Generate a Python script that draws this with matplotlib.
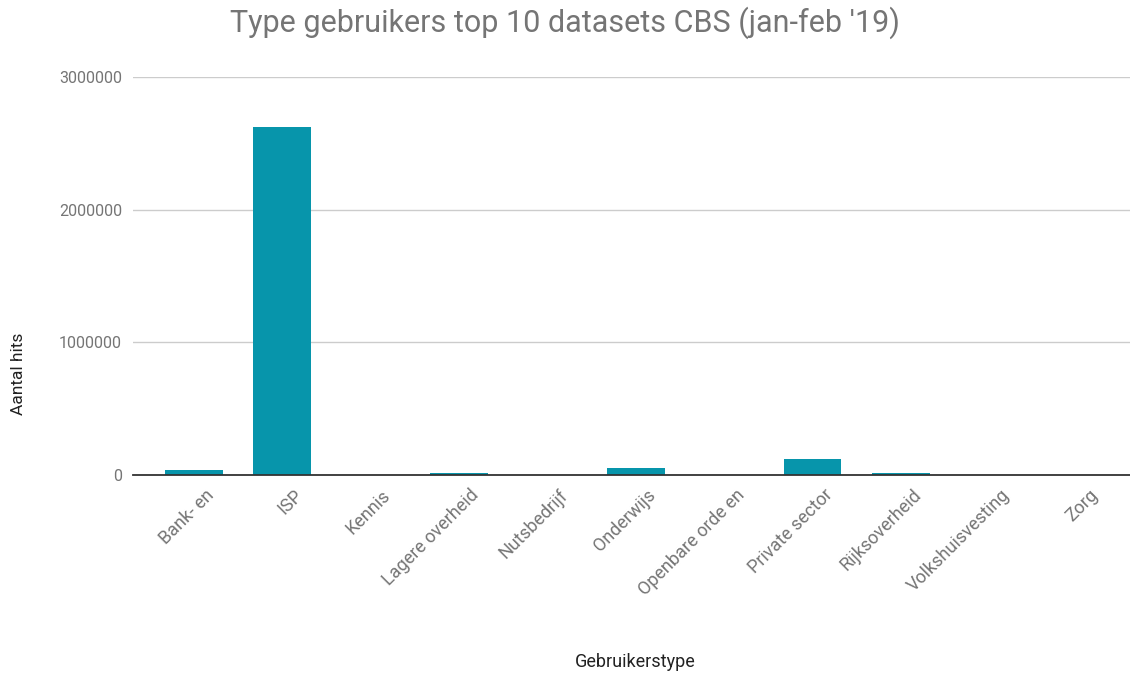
import matplotlib
matplotlib.use("Agg")
import matplotlib.pyplot as plt
import matplotlib.transforms as mtransforms
import numpy as np

plt.rcParams['font.family'] = ['Roboto', 'DejaVu Sans']

categories = ["Bank- en", "ISP", "Kennis", "Lagere overheid", "Nutsbedrijf",
              "Onderwijs", "Openbare orde en", "Private sector", "Rijksoverheid",
              "Volkshuisvesting", "Zorg"]
hits = [38000, 2623000, 0, 15000, 0, 49000, 0, 117000, 15000, 0, 0]
yticks = [0, 1000000, 2000000, 3000000]

text_col = "#757575"
bar_col = "#0795ab"

fig = plt.figure(figsize=(11.3, 6.75), dpi=100)
ax = fig.add_axes([0.1177, 0.2963, 0.8823, 0.5896])

x = np.arange(len(categories))
ax.bar(x, hits, width=0.65, color=bar_col, zorder=3)

ax.set_xlim(-0.688, 10.59)
ax.set_ylim(0, 3000000)
ax.set_yticks(yticks)
ax.set_yticklabels([str(v) for v in yticks], color=text_col, fontsize=11.5)
ax.set_xticks(x)
ax.set_xticklabels(categories, rotation=45, ha="right", rotation_mode="anchor",
                   color=text_col, fontsize=13)
ax.tick_params(length=0, pad=8)
ax.tick_params(axis="x", pad=8)

# shift the rotated labels a bit to the right, like the original
shift = mtransforms.ScaledTranslation(11 / 100, 0, fig.dpi_scale_trans)
for lbl in ax.get_xticklabels():
    lbl.set_transform(lbl.get_transform() + shift)

ax.grid(axis="y", color="#cccccc", linewidth=1, zorder=0)
for s in ["top", "right", "left"]:
    ax.spines[s].set_visible(False)
ax.spines["bottom"].set_color("#333333")
ax.spines["bottom"].set_linewidth(1.3)
ax.spines["bottom"].set_zorder(4)

fig.text(0.5, 0.967, "Type gebruikers top 10 datasets CBS (jan-feb '19)",
         ha="center", va="center", fontsize=22, color=text_col)
fig.text(0.5625, 0.019, "Gebruikerstype", ha="center", va="center",
         fontsize=13, color="#222222")
fig.text(0.016, 0.446, "Aantal hits", ha="center", va="center", rotation=90,
         fontsize=12.5, color="#222222")

plt.savefig("out.png", dpi=100)
